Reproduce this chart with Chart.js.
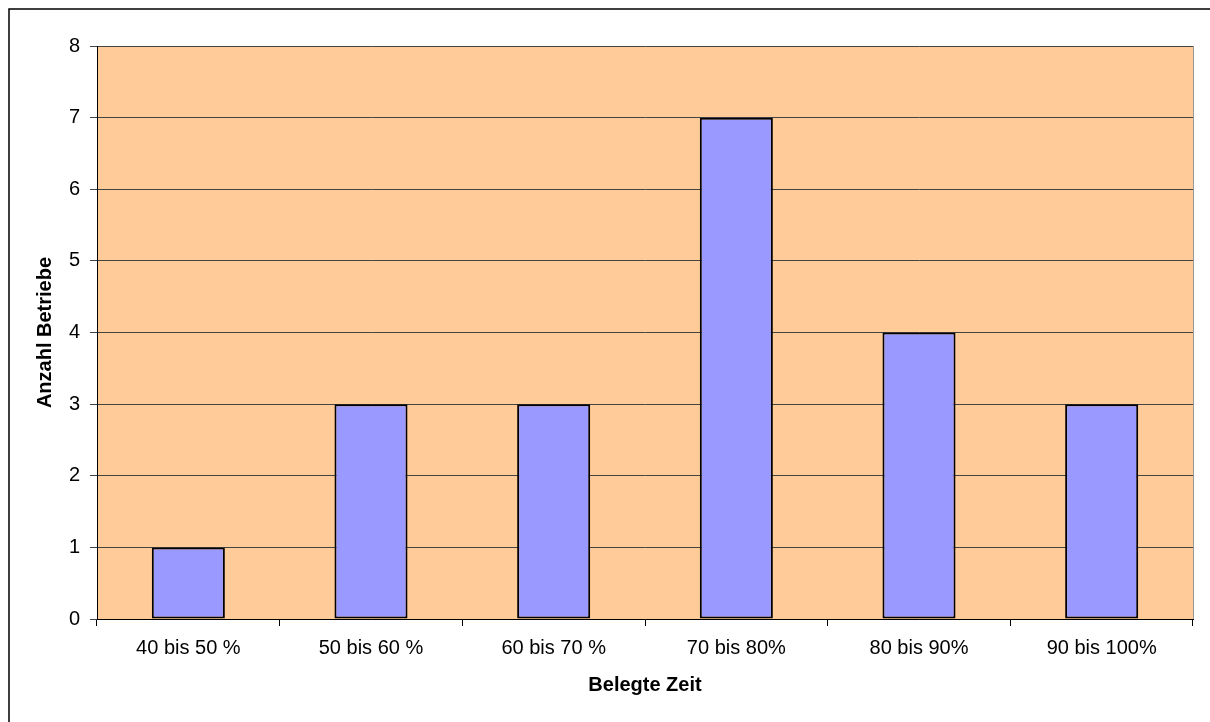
<!DOCTYPE html>
<html>
<head>
<meta charset="utf-8">
<script src="https://cdn.jsdelivr.net/npm/chart.js@4"></script>
<style>
    html, body { margin: 0; padding: 0; background: #fff; }
    #wrap { position: relative; width: 1210px; height: 722px; }
</style>
</head>
<body>
<div id="wrap"><canvas id="belegteZeitChart" width="1210" height="722"></canvas></div>
<script>
const categories = ["40 bis 50 %", "50 bis 60 %", "60 bis 70 %", "70 bis 80%", "80 bis 90%", "90 bis 100%"];
const betriebe = [1, 3, 3, 7, 4, 3];
const yTicks = [0, 1, 2, 3, 4, 5, 6, 7, 8];

// Plot background and outer frame
const frame = {
    id: "frame",
    beforeDraw(chart) {
        const { ctx, chartArea: a } = chart;
        ctx.save();
        ctx.fillStyle = "#FFCC99";
        ctx.fillRect(a.left, a.top, a.right - a.left, a.bottom - a.top);
        ctx.strokeStyle = "#000";
        ctx.lineWidth = 1.5;
        ctx.beginPath();
        ctx.moveTo(9, 722);
        ctx.lineTo(9, 9);
        ctx.lineTo(1210, 9);
        ctx.stroke();
        ctx.restore();
    },
    afterDatasetsDraw(chart) {
        const { ctx, chartArea: a } = chart;
        ctx.save();
        ctx.strokeStyle = "#999";
        ctx.lineWidth = 1;
        ctx.beginPath();
        ctx.moveTo(a.right + 0.5, a.top);
        ctx.lineTo(a.right + 0.5, a.bottom);
        ctx.stroke();
        ctx.restore();
    }
};

const font = { family: "'Liberation Sans', Arial, sans-serif", size: 20 };

new Chart(document.getElementById("belegteZeitChart"), {
    type: "bar",
    data: {
        labels: categories,
        datasets: [{
            data: betriebe,
            backgroundColor: "#9999FF",
            borderColor: "#000",
            borderWidth: 2,
            borderSkipped: false,
            categoryPercentage: 1,
            barPercentage: 0.4
        }]
    },
    options: {
        responsive: false,
        animation: false,
        layout: { padding: { left: 0, top: 46, right: 17, bottom: 0 } },
        plugins: { legend: { display: false }, tooltip: { enabled: false } },
        scales: {
            x: {
                afterFit: s => { s.height = 103; },
                grid: { drawOnChartArea: false, drawTicks: true, tickLength: 7, color: "#000", offset: true },
                border: { color: "#000", width: 1 },
                ticks: { color: "#000", font: font, padding: 10, maxRotation: 0 },
                title: {
                    display: true, text: "Belegte Zeit", color: "#000",
                    font: { ...font, weight: "bold" }, padding: { top: 0, bottom: 25 }
                }
            },
            y: {
                min: 0, max: 8,
                afterFit: s => { s.width = 97; },
                afterBuildTicks: s => { s.ticks = yTicks.map(v => ({ value: v })); },
                grid: { color: "#444", tickLength: 7, lineWidth: 1 },
                border: { color: "#000", width: 1 },
                ticks: { color: "#000", font: font, padding: 10 },
                title: {
                    display: true, text: "Anzahl Betriebe", color: "#000",
                    font: { ...font, weight: "bold" }, padding: { top: 33, bottom: 0 }
                }
            }
        }
    },
    plugins: [frame]
});
</script>
</body>
</html>
